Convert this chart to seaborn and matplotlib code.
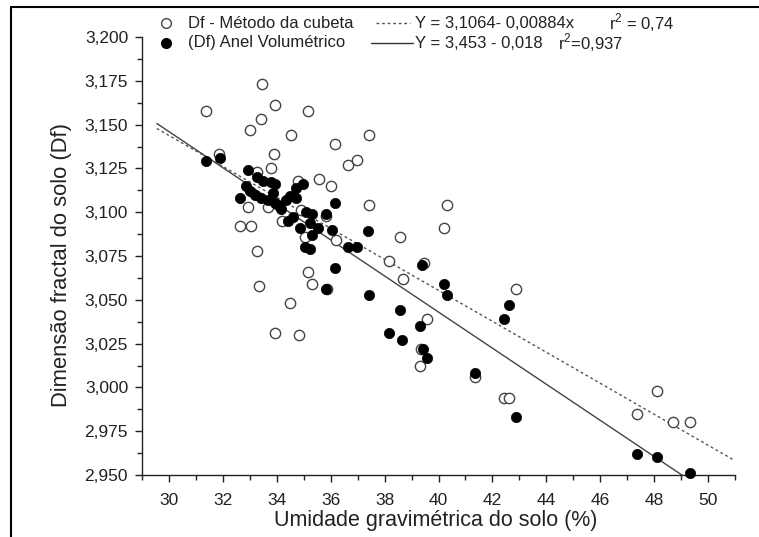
import numpy as np
import pandas as pd
import matplotlib
matplotlib.use("Agg")
import matplotlib.pyplot as plt
from matplotlib.lines import Line2D
from matplotlib.ticker import MultipleLocator, FuncFormatter
import seaborn as sns

# Df - Método da cubeta (open circles)
cubeta_x = [31.38, 31.85, 32.62, 32.93, 32.99, 33.03, 33.27, 33.28, 33.35, 33.43,
            33.45, 33.67, 33.77, 33.90, 33.92, 33.95, 34.19, 34.49, 34.52, 34.77,
            34.83, 34.91, 35.04, 35.14, 35.16, 35.31, 35.57, 35.84, 35.88, 36.01,
            36.16, 36.19, 36.66, 36.96, 37.42, 37.43, 38.16, 38.58, 38.67, 39.45,
            39.36, 39.32, 39.57, 40.22, 40.32, 41.34, 42.42, 42.63, 42.86, 47.36,
            48.10, 48.70, 49.32]
cubeta_y = [3.158, 3.133, 3.092, 3.103, 3.147, 3.092, 3.078, 3.123, 3.058, 3.153,
            3.173, 3.103, 3.125, 3.133, 3.161, 3.031, 3.095, 3.048, 3.144, 3.118,
            3.030, 3.101, 3.086, 3.158, 3.066, 3.059, 3.119, 3.098, 3.056, 3.115,
            3.139, 3.084, 3.127, 3.130, 3.144, 3.104, 3.072, 3.086, 3.062, 3.071,
            3.022, 3.012, 3.039, 3.091, 3.104, 3.006, 2.994, 2.994, 3.056, 2.985,
            2.998, 2.980, 2.980]

# (Df) Anel Volumétrico (filled circles)
anel_x = [31.38, 31.90, 32.62, 32.87, 32.93, 32.99, 33.18, 33.28, 33.43, 33.49,
          33.68, 33.79, 33.86, 33.92, 33.92, 34.04, 34.17, 34.36, 34.41, 34.48,
          34.60, 34.72, 34.72, 34.85, 34.97, 35.04, 35.10, 35.23, 35.23, 35.29,
          35.29, 35.53, 35.82, 35.84, 36.04, 36.16, 36.16, 36.65, 36.96, 37.39,
          37.43, 38.17, 38.58, 38.66, 39.32, 39.39, 39.44, 39.57, 40.22, 40.32,
          41.34, 42.42, 42.61, 42.86, 47.36, 48.10, 49.32]
anel_y = [3.129, 3.131, 3.108, 3.115, 3.124, 3.112, 3.110, 3.120, 3.108, 3.118,
          3.107, 3.117, 3.111, 3.116, 3.105, 3.104, 3.102, 3.107, 3.095, 3.109,
          3.097, 3.108, 3.114, 3.091, 3.116, 3.080, 3.100, 3.094, 3.079, 3.099,
          3.087, 3.091, 3.056, 3.099, 3.090, 3.105, 3.068, 3.080, 3.080, 3.089,
          3.053, 3.031, 3.044, 3.027, 3.035, 3.070, 3.022, 3.017, 3.059, 3.053,
          3.008, 3.039, 3.047, 2.983, 2.962, 2.960, 2.951]
# point lying just under the x axis (partly hidden)
anel_low_x = [48.70]
anel_low_y = [2.946]

# fitted lines (as drawn in the figure)
fit_x = [29.55, 51.0]
cubeta_fit = (3.409, -0.00884)
anel_fit = (3.455, -0.0103)

W, H = 759, 537
sns.set_theme(style="ticks")
plt.rcParams['font.family'] = ['Liberation Sans', 'DejaVu Sans']
plt.rcParams['mathtext.fontset'] = 'custom'
plt.rcParams['mathtext.rm'] = 'Liberation Sans'

fig = plt.figure(figsize=(W / 100, H / 100), dpi=100)
ax = fig.add_axes([142 / W, 1 - 475 / H, 593 / W, 438 / H])

df_c = pd.DataFrame({"x": cubeta_x, "y": cubeta_y})
df_a = pd.DataFrame({"x": anel_x, "y": anel_y})
fx = np.array(fit_x)

sns.lineplot(x=fx, y=cubeta_fit[0] + cubeta_fit[1] * fx, ax=ax, color="#555555",
             lw=1.0, linestyle=(0, (2, 2)))
sns.lineplot(x=fx, y=anel_fit[0] + anel_fit[1] * fx, ax=ax, color="#444444", lw=1.0)

sns.scatterplot(data=df_c, x="x", y="y", ax=ax, marker="o", s=55,
                facecolor="white", edgecolor="#444444", linewidth=1.0, clip_on=False, zorder=3)
sns.scatterplot(data=df_a, x="x", y="y", ax=ax, marker="o", s=55,
                color="black", edgecolor="black", linewidth=0.5, clip_on=False, zorder=4)
ax.scatter(anel_low_x, anel_low_y, s=55, color="black", zorder=4)

ax.set_xlim(29.0, 51.0)
ax.set_ylim(2.95, 3.2)
sns.despine(ax=ax)
for sp in ["left", "bottom"]:
    ax.spines[sp].set_linewidth(1.0)
    ax.spines[sp].set_color("#222222")

ax.xaxis.set_major_locator(MultipleLocator(2))
ax.xaxis.set_minor_locator(MultipleLocator(1))
ax.yaxis.set_major_locator(MultipleLocator(0.025))
ax.yaxis.set_minor_locator(MultipleLocator(0.0125))
ax.yaxis.set_major_formatter(FuncFormatter(lambda v, p: f"{v:.3f}".replace('.', ',')))
ax.xaxis.set_major_formatter(FuncFormatter(lambda v, p: f"{v:.0f}"))
ax.tick_params(which="major", length=5, width=1, labelsize=12.5, colors="#222222", pad=5)
ax.tick_params(axis="x", which="major", pad=8)
ax.tick_params(which="minor", length=3.5, width=1, colors="#222222")
ax.set_xticks([t for t in range(30, 51, 2)])

ax.set_xlabel("Umidade gravimétrica do solo (%)", fontsize=15.5, color="#222222")
ax.set_ylabel("Dimensão fractal do solo (Df)", fontsize=15.8, color="#222222")
ax.xaxis.set_label_coords(0.496, -0.08)
ax.yaxis.set_label_coords(-0.118, 0.48)

# legend drawn in figure pixels
def fxp(px):
    return px / W

def fyp(py):
    return 1 - py / H

fig.add_artist(Line2D([fxp(166)], [fyp(23)], marker="o", markersize=7,
                      markerfacecolor="white", markeredgecolor="#444444", lw=0))
fig.add_artist(Line2D([fxp(166)], [fyp(43)], marker="o", markersize=7,
                      markerfacecolor="black", markeredgecolor="black", lw=0))
fig.add_artist(Line2D([fxp(376), fxp(410)], [fyp(23), fyp(23)], color="#555555",
                      lw=1.0, linestyle=(0, (2, 2))))
fig.add_artist(Line2D([fxp(371), fxp(413)], [fyp(43), fyp(43)], color="#333333", lw=1.0))
legend_kw = dict(fontsize=12, va="center", ha="left", color="#222222")
fig.text(fxp(188), fyp(23), "Df - Método da cubeta", **legend_kw)
fig.text(fxp(188), fyp(43), "(Df) Anel Volumétrico", **legend_kw)
fig.text(fxp(415), fyp(23), "Y = 3,1064- 0,00884x", **legend_kw)
fig.text(fxp(415), fyp(43), "Y = 3,453 - 0,018", **legend_kw)
fig.text(fxp(609), fyp(23), "r$^2$ = 0,74", **legend_kw)
fig.text(fxp(558), fyp(43), "r$^2$=0,937", **legend_kw)

# outer frame (top and left edges)
fig.add_artist(Line2D([fxp(11), 1.0], [fyp(7), fyp(7)], color="black", lw=1.5))
fig.add_artist(Line2D([fxp(11), fxp(11)], [fyp(7), 0.0], color="black", lw=1.5))

fig.savefig("out.png", dpi=100, facecolor="white")
